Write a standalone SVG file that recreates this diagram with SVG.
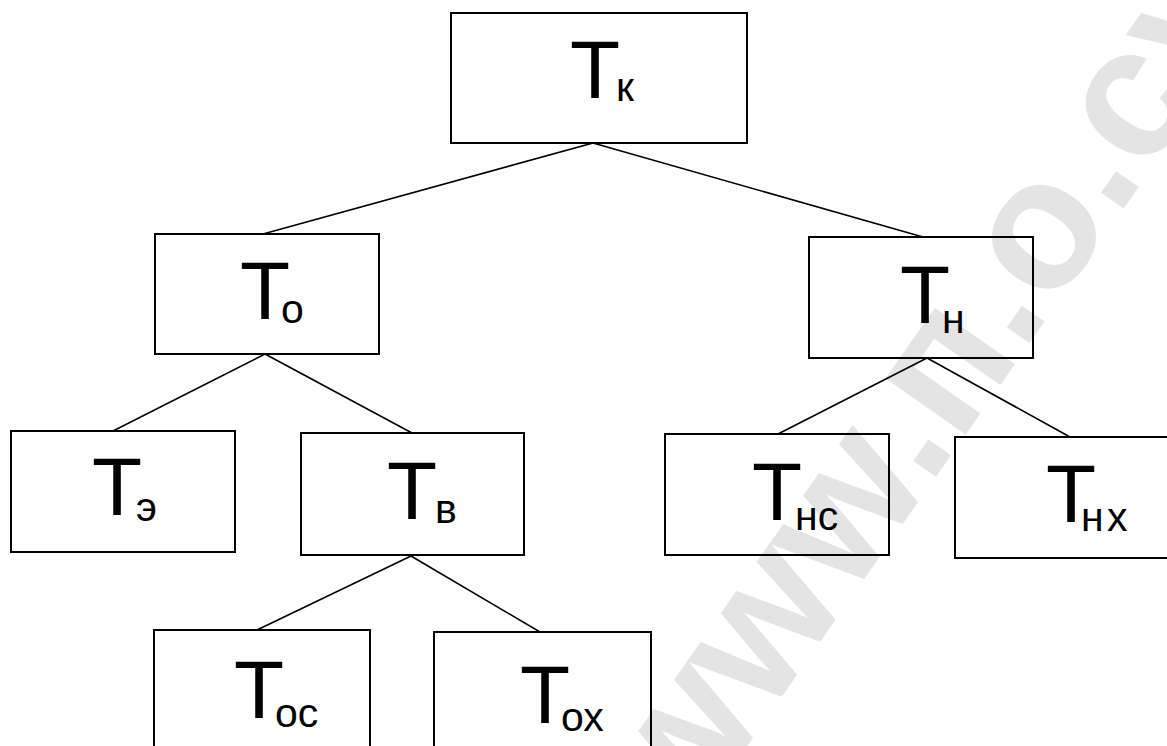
<svg xmlns="http://www.w3.org/2000/svg" width="1167" height="746" viewBox="0 0 1167 746">
<style>
.box{fill:none;stroke:#000;stroke-width:2}
.ln{stroke:#000;stroke-width:1.6;fill:none}
.t{font-family:"Liberation Sans",Arial,sans-serif;font-size:82px;fill:#000}
.s{font-family:"Liberation Sans",Arial,sans-serif;font-size:41px;fill:#000}
.wm{font-family:"Liberation Sans",Arial,sans-serif;font-weight:bold;font-size:185px;fill:#e4e4e4}
</style>
<rect width="1167" height="746" fill="#fff"/>
<g id="watermark">
<text class="wm" transform="translate(685,835) rotate(-55)">www.п.о.сухого</text>
</g>
<g id="connectors">
<line class="ln" x1="593" y1="143" x2="263" y2="234"/>
<line class="ln" x1="593" y1="143" x2="923" y2="237"/>
<line class="ln" x1="265" y1="354" x2="113" y2="431"/>
<line class="ln" x1="265" y1="354" x2="412" y2="433"/>
<line class="ln" x1="927" y1="358" x2="778" y2="434"/>
<line class="ln" x1="927" y1="358" x2="1070" y2="437"/>
<line class="ln" x1="411" y1="556" x2="257" y2="630"/>
<line class="ln" x1="411" y1="556" x2="540" y2="632"/>
</g>
<g id="Tk">
<rect class="box" x="451" y="13" width="296" height="130"/>
<text class="t" x="570" y="98">Т</text><text class="s" x="616" y="101">к</text>
</g>
<g id="To">
<rect class="box" x="155" y="234" width="224" height="120"/>
<text class="t" x="240" y="319">Т</text><text class="s" x="281" y="323">о</text>
</g>
<g id="Tn">
<rect class="box" x="809" y="237" width="224" height="121"/>
<text class="t" x="900" y="323">Т</text><text class="s" x="942" y="333">н</text>
</g>
<g id="Te">
<rect class="box" x="11" y="431" width="224" height="121"/>
<text class="t" x="92" y="515">Т</text><text class="s" x="136" y="521">э</text>
</g>
<g id="Tv">
<rect class="box" x="301" y="433" width="223" height="122"/>
<text class="t" x="387" y="519">Т</text><text class="s" x="435" y="523">в</text>
</g>
<g id="Tns">
<rect class="box" x="665" y="434" width="224" height="121"/>
<text class="t" x="752" y="520">Т</text><text class="s" x="795" y="530">нс</text>
</g>
<g id="Tnh">
<rect class="box" x="955" y="437" width="224" height="121"/>
<text class="t" x="1046" y="522">Т</text><text class="s" x="1081" y="531" word-spacing="-8">н х</text>
</g>
<g id="Tos">
<rect class="box" x="154" y="630" width="216" height="130"/>
<text class="t" x="234" y="718">Т</text><text class="s" x="275" y="727">ос</text>
</g>
<g id="Toh">
<rect class="box" x="434" y="632" width="217" height="130"/>
<text class="t" x="520" y="723">Т</text><text class="s" x="561" y="731">ох</text>
</g>
</svg>
